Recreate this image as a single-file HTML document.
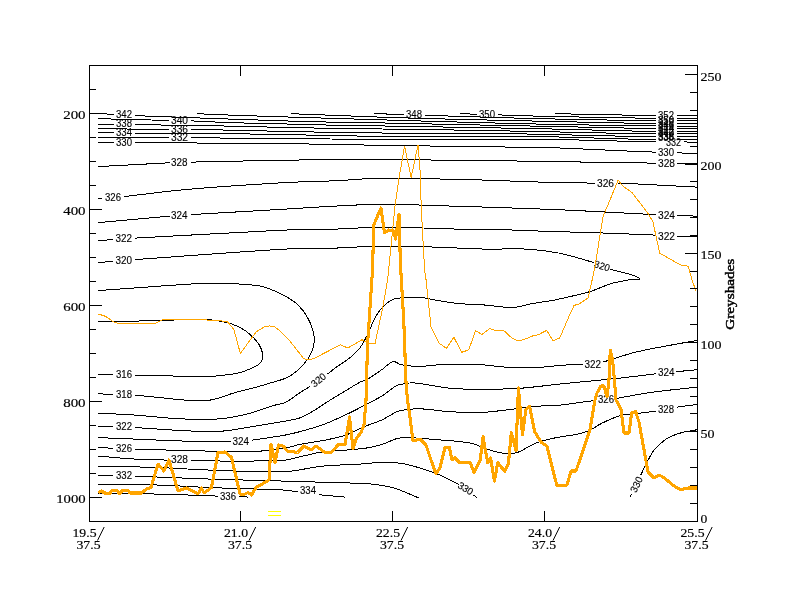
<!DOCTYPE html><html><head><meta charset="utf-8"><title>Cross section</title><style>
html,body{margin:0;padding:0;background:#fff;width:800px;height:600px;overflow:hidden}
svg{display:block}
.ax{font-family:"Liberation Serif",serif;font-size:13px;fill:#000;stroke:#000;stroke-width:0.18px}
.cl{font-family:"Liberation Sans",sans-serif;font-weight:normal;font-size:10px;fill:#000;stroke:#000;stroke-width:0.12px}
</style></head><body>
<svg width="800" height="600" viewBox="0 0 800 600">
<rect width="800" height="600" fill="#fff"/>
<g fill="none" stroke="#000" stroke-width="1" stroke-linejoin="round" shape-rendering="crispEdges" transform="translate(0.1,0.1)">
<path d="M98,113.4 L113.5,114.28"/>
<path d="M134.5,115.47C134.67,115.48 134.83,115.49 135,115.5C145.67,115.92 156.33,116.35 167,116.75C177.00,117.12 187.00,117.44 197,117.8C208.00,118.19 219.00,118.63 230,119C250.33,119.69 270.66,120.39 291,121C304.00,121.39 317.00,121.73 330,122C344.67,122.30 359.33,122.46 374,122.7C379.33,122.79 384.67,122.89 390,123C413.33,123.49 436.67,124.02 460,124.5C486.67,125.05 513.33,125.57 540,126.1C545.00,126.20 550.00,126.29 555,126.4C583.33,127.01 611.67,127.70 640,128.25C645.17,128.35 650.33,128.32 655.5,128.35"/>
<path d="M676.5,128.47 L697,128.6"/>
<path d="M98,118.6C110.33,118.90 122.67,119.20 135,119.5C145.67,119.76 156.33,120.04 167,120.3C167.50,120.31 168.00,120.32 168.5,120.33"/>
<path d="M190.5,120.85C192.67,120.90 194.83,120.90 197,121C208.00,121.49 218.99,122.25 230,122.6C250.33,123.25 270.67,123.51 291,124C304.00,124.31 317.00,124.73 330,125C344.67,125.30 359.33,125.46 374,125.7C379.33,125.79 384.67,125.91 390,126C413.33,126.41 436.67,126.80 460,127.2C486.67,127.66 513.33,128.09 540,128.6C545.00,128.69 550.00,128.87 555,129C583.33,129.71 611.66,130.49 640,131.1C645.17,131.21 650.33,131.15 655.5,131.18"/>
<path d="M676.5,131.29 L697,131.4"/>
<path d="M98,124 L113.5,124.21"/>
<path d="M134.5,124.49C134.67,124.49 134.83,124.50 135,124.5C145.67,124.67 156.33,124.83 167,125C177.00,125.16 187.00,125.34 197,125.5C208.00,125.67 219.00,125.77 230,126C250.33,126.43 270.67,127.05 291,127.5C304.00,127.79 317.00,128.00 330,128.2C344.67,128.43 359.33,128.60 374,128.8C379.33,128.87 384.67,128.93 390,129C413.33,129.33 436.67,129.61 460,130C486.67,130.44 513.33,130.99 540,131.5C545.00,131.59 550.00,131.70 555,131.8C583.33,132.40 611.67,133.07 640,133.6C645.17,133.70 650.33,133.65 655.5,133.68"/>
<path d="M676.5,133.79 L697,133.9"/>
<path d="M98,128.6C110.33,128.73 122.67,128.87 135,129C145.67,129.11 156.33,129.20 167,129.3C167.50,129.30 168.00,129.31 168.5,129.31"/>
<path d="M190.5,129.53C192.67,129.55 194.83,129.57 197,129.6C208.00,129.73 219.00,129.78 230,130C250.34,130.41 270.67,131.05 291,131.5C304.00,131.79 317.00,132.00 330,132.2C344.67,132.43 359.33,132.60 374,132.8C379.33,132.87 384.67,132.96 390,133C413.33,133.19 436.67,133.34 460,133.5C486.67,133.68 513.33,133.72 540,134C545.00,134.05 550.00,134.37 555,134.5C583.33,135.21 611.66,135.91 640,136.5C645.17,136.61 650.33,136.55 655.5,136.58"/>
<path d="M676.5,136.69 L697,136.8"/>
<path d="M98,132.6 L113.5,132.73"/>
<path d="M134.5,132.9C134.67,132.90 134.83,132.90 135,132.9C145.67,132.97 156.33,133.03 167,133.1C177.00,133.16 187.00,133.22 197,133.3C208.00,133.39 219.00,133.45 230,133.6C250.33,133.88 270.67,134.23 291,134.6C304.00,134.83 317.00,135.15 330,135.4C344.67,135.68 359.33,135.96 374,136.2C379.33,136.29 384.67,136.38 390,136.4C413.33,136.48 436.67,136.48 460,136.5C486.67,136.52 513.33,136.42 540,136.5C545.00,136.52 550.00,136.66 555,136.8C583.33,137.58 611.66,138.54 640,139.25C645.17,139.38 650.33,139.30 655.5,139.32"/>
<path d="M676.5,139.41 L697,139.5"/>
<path d="M98,137C110.33,137.07 122.67,137.11 135,137.2C145.67,137.28 156.33,137.40 167,137.5C167.50,137.50 168.00,137.51 168.5,137.51"/>
<path d="M190.5,137.66C192.67,137.67 194.83,137.68 197,137.7C208.00,137.79 219.00,137.91 230,138C250.33,138.17 270.67,138.32 291,138.5C304.00,138.62 317.00,138.77 330,138.9C344.67,139.04 359.33,139.18 374,139.3C379.33,139.34 384.67,139.41 390,139.4C413.33,139.37 436.67,139.26 460,139.2C486.67,139.13 513.33,138.97 540,139C545.00,139.01 550.00,139.18 555,139.3C583.33,140.01 611.66,140.84 640,141.5C645.17,141.62 650.33,141.59 655.5,141.64"/>
<path d="M683.5,141.88 L697,142"/>
<path d="M98,142.6 L113.5,142.64"/>
<path d="M134.5,142.7C134.67,142.70 134.83,142.70 135,142.7C145.67,142.73 156.33,142.77 167,142.8C177.00,142.83 187.00,142.87 197,142.9C208.00,142.93 219.00,142.92 230,143C250.33,143.15 270.67,143.34 291,143.6C304.00,143.77 317.00,144.07 330,144.3C344.67,144.57 359.33,144.83 374,145.1C379.33,145.20 384.67,145.33 390,145.4C413.33,145.73 436.67,145.99 460,146.3C486.67,146.66 513.33,147.01 540,147.4C545.00,147.47 550.00,147.50 555,147.7C583.34,148.86 611.66,150.28 640,151.5C645.16,151.72 650.33,151.85 655.5,152.02"/>
<path d="M676.5,152.72 L697,153.4"/>
<path d="M197,113.6C208.00,114.07 219.00,114.60 230,115C250.33,115.74 270.67,116.36 291,117C318.67,117.86 346.33,118.66 374,119.5C379.33,119.66 384.67,119.84 390,120C413.33,120.68 436.67,121.38 460,122C486.67,122.71 513.33,123.44 540,124C573.33,124.69 606.67,125.22 640,125.75C645.17,125.83 650.33,125.82 655.5,125.85"/>
<path d="M676.5,125.97 L697,126.1"/>
<path d="M291,113.6C318.67,114.67 346.33,115.74 374,116.8C379.33,117.00 384.67,117.24 390,117.4C413.33,118.08 436.67,118.72 460,119.3C486.67,119.96 513.33,120.51 540,121.1C573.33,121.83 606.67,122.60 640,123.25C645.17,123.35 650.33,123.32 655.5,123.35"/>
<path d="M676.5,123.47 L697,123.6"/>
<path d="M374,113.6C379.33,113.73 384.67,113.85 390,114C394.50,114.13 399.00,114.29 403.5,114.44"/>
<path d="M424.5,115.13C436.33,115.52 448.17,115.94 460,116.3C486.67,117.10 513.33,117.98 540,118.6C573.33,119.38 606.67,119.93 640,120.5C645.17,120.59 650.33,120.55 655.5,120.58"/>
<path d="M676.5,120.69 L697,120.8"/>
<path d="M460,113.6 L476.5,114.12"/>
<path d="M497.5,114.77C511.67,115.21 525.83,115.78 540,116.1C573.33,116.86 606.67,117.43 640,118C645.17,118.09 650.33,118.05 655.5,118.08"/>
<path d="M676.5,118.19 L697,118.3"/>
<path d="M555,113.6C583.33,114.15 611.67,114.76 640,115.25C645.17,115.34 650.33,115.32 655.5,115.35"/>
<path d="M676.5,115.47 L697,115.6"/>
<path d="M98,166.5 L169.5,162.68"/>
<path d="M190.5,162.01C190.67,162.01 190.83,162.00 191,162C222.33,161.33 253.66,160.47 285,160C309.16,159.64 333.33,159.50 357.5,159.5C385.83,159.50 414.17,159.78 442.5,160C456.67,160.11 470.83,160.32 485,160.5C509.67,160.82 534.33,161.11 559,161.5C574.67,161.75 590.33,162.16 606,162.4C622.50,162.66 639.00,162.80 655.5,163"/>
<path d="M676.5,163 L697,163"/>
<path d="M98,198C99.00,198.00 100.00,198.01 101,198C101.17,198.00 101.33,197.98 101.5,197.97"/>
<path d="M123.5,196.53C123.67,196.52 123.83,196.52 124,196.5C144.33,194.18 164.61,191.27 185,189.5C218.29,186.61 251.64,184.44 285,182.5C303.31,181.44 321.67,181.36 340,180.5C346.68,180.19 353.32,179.33 360,179C369.99,178.50 379.99,177.95 390,178C415.00,178.12 440.00,178.97 465,179.5C471.67,179.64 478.34,179.77 485,180C507.92,180.77 530.83,181.87 553.75,182.5C567.33,182.87 580.92,182.83 594.5,182.99"/>
<path d="M617.5,183C618.33,183.00 619.17,182.96 620,183C645.67,184.29 671.33,185.67 697,187"/>
<path d="M98,222.5 L169.5,216.05"/>
<path d="M190.5,214.54C190.67,214.53 190.83,214.51 191,214.5C222.33,212.66 253.67,210.85 285,209C301.67,208.02 318.32,206.83 335,206C351.66,205.17 368.32,204.08 385,204C401.67,203.92 418.33,205.00 435,205.5C451.67,206.00 468.34,206.43 485,207C512.50,207.93 540.01,208.77 567.5,210C596.84,211.31 626.17,213.07 655.5,214.6"/>
<path d="M676.5,215.46C676.83,215.47 677.17,215.49 677.5,215.5C684.00,215.67 690.50,215.83 697,216"/>
<path d="M98,240.5 L112.5,239.52"/>
<path d="M134.5,238.03C134.67,238.02 134.83,238.01 135,238C185.00,235.33 234.98,232.25 285,230C301.65,229.25 318.34,229.50 335,229C351.67,228.50 368.32,227.00 385,227C409.18,227.00 433.33,228.52 457.5,229C466.66,229.18 475.84,228.78 485,229C503.34,229.44 521.66,230.39 540,231C562.00,231.73 584.00,232.24 606,233C622.50,233.57 639.00,234.33 655.5,235"/>
<path d="M676.5,235.95C676.83,235.97 677.17,236.00 677.5,236C684.00,236.02 690.50,236.00 697,236"/>
<path d="M98,262.5 L112.5,261.32"/>
<path d="M134.5,259.54C134.67,259.53 134.83,259.51 135,259.5C185.00,256.00 234.96,251.88 285,249C301.64,248.04 318.34,248.53 335,248C350.01,247.53 364.99,246.15 380,246C398.34,245.82 416.67,246.48 435,247C451.67,247.48 468.32,248.63 485,249C498.66,249.30 512.35,248.26 526,249C537.06,249.60 548.13,250.85 559,253C570.70,255.31 582.03,259.23 593.54,262.35"/>
<path d="M610.09,269.01C610.56,269.21 611.01,269.45 611.5,269.6C620.65,272.45 630.96,272.78 639,278C642.26,280.12 631.32,279.25 627.5,280C622.15,281.05 616.71,281.81 611.5,283.4C604.01,285.68 597.00,289.36 589.5,291.6C579.80,294.49 569.85,296.43 560,298.75C557.10,299.43 554.19,300.10 551.25,300.6C545.02,301.65 538.72,302.26 532.5,303.4C527.46,304.33 522.54,305.86 517.5,306.8C515.03,307.26 512.51,307.74 510,307.6C501.83,307.14 493.75,305.65 485.6,305C476.25,304.25 466.84,304.28 457.5,303.4C451.21,302.81 444.99,301.62 438.75,300.6C432.48,299.57 426.33,297.72 420,297.25C413.68,296.78 407.31,297.25 401,297.8C397.95,298.07 394.75,298.33 392,299.7C388.42,301.48 385.26,304.11 382.5,307C379.53,310.11 377.07,313.73 375,317.5C372.04,322.91 370.26,328.89 367.5,334.4C365.25,338.90 363.01,343.47 360,347.5C357.33,351.07 354.04,354.18 350.6,357C345.68,361.03 340.13,364.24 335,368C332.51,369.82 330.17,371.84 327.75,373.75C327.62,373.85 327.48,373.95 327.34,374.05"/>
<path d="M309.86,386.34C306.57,388.39 303.25,390.39 300,392.5C294.96,395.78 290.37,399.81 285,402.5C281.93,404.04 278.29,404.01 275,405C265.79,407.76 256.83,411.42 247.5,413.75C238.46,416.01 229.29,418.06 220,418.75C206.70,419.73 193.32,419.34 180,418.75C164.96,418.09 150.02,416.05 135,415C122.68,414.14 110.33,413.67 98,413"/>
<path d="M98,290.5C118.67,289.00 139.33,287.38 160,286C176.66,284.88 193.31,283.42 210,283C220.00,282.75 230.01,283.40 240,284C246.69,284.40 253.41,284.78 260,286C264.30,286.79 268.44,288.38 272.5,290C276.79,291.72 280.99,293.71 285,296C289.17,298.39 293.52,300.68 297,304C301.12,307.94 304.83,312.47 307.5,317.5C310.57,323.27 313.13,329.52 314,336C314.67,341.00 313.73,346.26 312,351C310.24,355.82 307.20,360.20 303.75,364C299.36,368.83 294.44,373.40 288.75,376.6C283.00,379.84 276.28,380.95 270,383C266.69,384.08 263.36,385.09 260,386C251.69,388.26 243.29,390.18 235,392.5C226.62,394.85 218.60,398.71 210,400C201.76,401.24 193.32,400.42 185,400C176.64,399.58 168.33,398.33 160,397.5C151.67,396.67 143.33,395.82 135,395C134.83,394.98 134.67,394.99 134.5,394.98"/>
<path d="M112.5,394.24 L98,393.75"/>
<path d="M98,321.3C110.33,321.20 122.67,321.20 135,321C143.34,320.87 151.67,320.53 160,320.3C168.33,320.07 176.67,319.83 185,319.6C190.00,319.46 195.00,319.09 200,319.2C205.01,319.31 210.02,319.64 215,320.25C219.04,320.74 223.07,321.45 227,322.5C230.59,323.46 234.13,324.69 237.5,326.25C240.65,327.71 243.69,329.46 246.5,331.5C249.22,333.48 251.69,335.80 254,338.25C255.96,340.32 257.82,342.53 259.25,345C260.60,347.33 261.80,349.85 262.25,352.5C262.67,354.97 262.55,357.61 261.8,360C261.25,361.78 260.00,363.40 258.5,364.5C255.79,366.48 252.59,367.69 249.5,369C246.08,370.45 242.60,371.84 239,372.75C235.07,373.75 231.02,374.19 227,374.7C222.02,375.34 217.01,375.87 212,376.2C208.01,376.47 204.00,376.49 200,376.5C195.00,376.52 190.00,376.42 185,376.3C176.67,376.09 168.33,375.72 160,375.5C151.67,375.28 143.33,375.17 135,375C134.83,375.00 134.67,374.99 134.5,374.99"/>
<path d="M112.5,374.7 L98,374.5"/>
<path d="M98,426 L112.5,426.59"/>
<path d="M134.5,427.48C134.67,427.49 134.83,427.49 135,427.5C154.17,428.66 173.31,430.23 192.5,431C202.49,431.40 212.53,431.80 222.5,431C233.43,430.13 244.18,427.73 255,426C265.01,424.40 275.03,422.84 285,421C290.03,420.07 295.21,419.50 300,417.7C305.30,415.71 310.13,412.63 315,409.75C320.14,406.72 324.94,403.16 330,400C334.94,396.91 340.00,394.00 345,391C350.00,388.00 354.86,384.74 360,382C362.38,380.73 365.17,380.35 367.5,379C372.70,375.99 377.55,372.40 382.5,369C386.05,366.57 388.81,362.47 393,361.5C395.80,360.85 398.17,364.20 401,364.7C407.26,365.80 413.65,366.30 420,366.25C427.53,366.20 434.98,364.64 442.5,364.4C454.33,364.02 466.18,363.89 478,364.4C488.03,364.83 497.97,366.75 508,367.2C518.66,367.68 529.34,367.59 540,367.2C546.69,366.96 553.32,365.80 560,365.3C567.49,364.74 575.00,364.43 582.5,364"/>
<path d="M602.5,362.05C602.67,362.03 602.84,362.05 603,362C613.68,358.76 624.17,354.89 635,352.2C647.37,349.12 659.98,347.08 672.5,344.7C680.65,343.15 688.83,341.83 697,340.4"/>
<path d="M98,437.5C110.33,438.00 122.67,438.50 135,439C151.67,439.67 168.32,440.65 185,441C200.16,441.32 215.33,441.00 230.5,441"/>
<path d="M251.5,440.05C251.83,440.03 252.17,440.05 252.5,440C263.34,438.37 274.21,436.93 285,435C290.05,434.10 295.05,432.85 300,431.5C307.55,429.44 315.15,427.45 322.5,424.75C330.17,421.94 337.58,418.43 345,415C351.09,412.18 357.05,409.09 363,406C369.55,402.59 376.21,399.36 382.5,395.5C387.23,392.60 391.10,388.36 396,385.75C398.73,384.29 401.96,384.05 405,383.5C407.47,383.05 409.99,382.75 412.5,382.75C415.01,382.75 417.51,383.14 420,383.5C430.65,385.03 441.18,387.49 451.9,388.4C462.90,389.33 473.96,389.00 485,389C495.84,389.00 506.69,389.15 517.5,388.4C532.97,387.32 548.33,385.06 563.75,383.5C581.24,381.73 598.77,380.26 616.25,378.4C629.38,377.01 642.48,375.30 655.6,373.75"/>
<path d="M676.2,371.6C676.53,371.57 676.87,371.53 677.2,371.5C683.80,370.87 690.40,370.23 697,369.6"/>
<path d="M98,447.5 L112.5,448.09"/>
<path d="M134.5,448.98C134.67,448.99 134.83,449.00 135,449C160.00,449.67 184.99,450.60 210,451C226.66,451.27 243.35,451.67 260,451C268.39,450.66 276.72,449.40 285,448C290.08,447.14 294.95,445.26 300,444.25C307.46,442.76 315.04,441.99 322.5,440.5C330.05,438.99 337.69,437.69 345,435.25C351.26,433.16 356.91,429.56 363,427C369.42,424.30 376.16,422.38 382.5,419.5C387.19,417.37 391.28,414.05 396,412C398.84,410.77 401.94,410.17 405,409.75C409.97,409.07 414.99,408.49 420,408.7C430.04,409.11 439.97,410.98 450,411.6C459.98,412.22 470.00,412.72 480,412.4C489.20,412.10 498.35,410.76 507.5,409.75C511.68,409.29 515.82,408.46 520,408C528.32,407.08 536.65,406.23 545,405.6C549.99,405.23 555.02,405.51 560,405C570.04,403.97 579.99,402.29 590,401C591.83,400.76 593.67,400.61 595.5,400.41"/>
<path d="M616.5,398.16C617.00,398.11 617.50,398.09 618,398C628.67,396.17 639.27,393.89 650,392.4C665.62,390.23 681.33,388.80 697,387"/>
<path d="M98,456C110.33,457.00 122.65,458.29 135,459C145.82,459.62 156.67,459.67 167.5,460C167.83,460.01 168.17,460.01 168.5,460.02"/>
<path d="M190.5,460.49C190.67,460.49 190.83,460.50 191,460.5C205.67,460.67 220.33,461.08 235,461C251.67,460.91 268.37,461.10 285,460C290.11,459.66 295.00,457.80 300,456.7C307.50,455.05 314.89,452.79 322.5,451.75C332.44,450.39 342.52,450.44 352.5,449.5C358.52,448.94 364.56,448.38 370.5,447.25C375.09,446.38 379.57,444.98 384,443.5C388.58,441.97 392.82,439.42 397.5,438.25C400.90,437.40 404.49,437.50 408,437.5C412.01,437.50 416.00,437.98 420,438.25C423.33,438.48 426.67,438.68 430,439C443.34,440.27 456.82,440.58 470,443C476.95,444.27 483.22,448.00 490,450C495.24,451.54 500.56,453.09 506,453.6C509.64,453.94 513.46,453.72 516.9,452.5C523.48,450.17 529.10,445.63 535.6,443.1C541.66,440.74 548.05,439.28 554.4,437.9C562.45,436.16 570.71,435.53 578.75,433.75C582.61,432.89 586.41,431.65 590,430C593.95,428.18 597.33,425.28 601.25,423.4C607.35,420.47 613.46,417.35 620,415.6C626.49,413.86 633.33,413.83 640,413C645.16,412.36 650.33,411.79 655.5,411.18"/>
<path d="M676.5,407.1C676.67,407.07 676.83,407.02 677,407C683.67,406.12 690.33,405.27 697,404.4"/>
<path d="M98,466C118.67,466.50 139.34,466.76 160,467.5C176.68,468.10 193.32,469.47 210,470C234.99,470.80 260.01,472.39 285,471.5C297.63,471.05 309.93,467.26 322.5,466C334.96,464.75 347.51,464.80 360,464C368.34,463.47 376.64,462.00 385,462C391.70,462.00 398.40,462.87 405,464C410.10,464.87 415.06,466.45 420,468C426.74,470.12 433.49,472.26 440,475C446.18,477.60 452.02,480.96 458,484C458.30,484.15 458.55,484.39 458.83,484.59"/>
<path d="M473.28,494.94 L477,497.6"/>
<path d="M98,475.5 L112.5,475.7"/>
<path d="M134.5,475.99C134.67,475.99 134.83,475.99 135,476C160.00,477.00 184.99,478.17 210,479C235.00,479.83 260.00,480.30 285,481C301.67,481.47 318.34,481.93 335,482.5C347.50,482.93 360.04,482.92 372.5,484C379.24,484.59 385.89,486.06 392.5,487.5C395.07,488.06 397.55,489.03 400,490C406.39,492.53 412.67,495.33 419,498"/>
<path d="M98,484C118.67,484.33 139.34,484.35 160,485C176.68,485.52 193.33,486.83 210,487.5C234.99,488.50 260.02,488.79 285,490C289.20,490.20 293.33,491.15 297.5,491.73"/>
<path d="M318.5,494.59 L345,497"/>
<path d="M98,493C118.67,493.33 139.34,493.48 160,494C179.17,494.48 198.33,495.33 217.5,496"/>
<path d="M238.5,496.1 L247.5,497"/>
<path d="M697,429.6C691.33,430.73 685.53,431.32 680,433C675.14,434.47 670.25,436.22 666,439C661.46,441.97 657.39,445.76 654,450C650.64,454.20 648.53,459.26 646,464C644.11,467.55 642.49,471.23 640.74,474.85"/>
<path d="M631.32,494.29 L630,497"/>
</g>
<g class="cl">
<text x="116" y="118.00" textLength="16" lengthAdjust="spacingAndGlyphs">342</text>
<text x="116" y="127.40" textLength="16" lengthAdjust="spacingAndGlyphs">338</text>
<text x="116" y="136.00" textLength="16" lengthAdjust="spacingAndGlyphs">334</text>
<text x="116" y="146.00" textLength="16" lengthAdjust="spacingAndGlyphs">330</text>
<text x="171" y="123.90" textLength="17" lengthAdjust="spacingAndGlyphs">340</text>
<text x="171" y="132.65" textLength="17" lengthAdjust="spacingAndGlyphs">336</text>
<text x="171" y="141.00" textLength="17" lengthAdjust="spacingAndGlyphs">332</text>
<text x="406" y="118.00" textLength="16" lengthAdjust="spacingAndGlyphs">348</text>
<text x="479" y="117.60" textLength="16" lengthAdjust="spacingAndGlyphs">350</text>
<text x="658" y="118.70" textLength="16" lengthAdjust="spacingAndGlyphs">352</text>
<text x="658" y="123.90" textLength="16" lengthAdjust="spacingAndGlyphs">350</text>
<text x="658" y="126.60" textLength="16" lengthAdjust="spacingAndGlyphs">348</text>
<text x="658" y="129.30" textLength="16" lengthAdjust="spacingAndGlyphs">346</text>
<text x="658" y="132.00" textLength="16" lengthAdjust="spacingAndGlyphs">344</text>
<text x="658" y="134.70" textLength="16" lengthAdjust="spacingAndGlyphs">342</text>
<text x="658" y="137.40" textLength="16" lengthAdjust="spacingAndGlyphs">340</text>
<text x="658" y="139.90" textLength="16" lengthAdjust="spacingAndGlyphs">338</text>
<text x="658" y="141.40" textLength="16" lengthAdjust="spacingAndGlyphs">336</text>
<text x="666" y="146.00" textLength="15" lengthAdjust="spacingAndGlyphs">332</text>
<text x="658" y="156.40" textLength="16" lengthAdjust="spacingAndGlyphs">330</text>
<text x="171" y="166.00" textLength="16.5" lengthAdjust="spacingAndGlyphs">328</text>
<text x="658" y="166.60" textLength="17" lengthAdjust="spacingAndGlyphs">328</text>
<text x="105" y="200.60" textLength="16" lengthAdjust="spacingAndGlyphs">326</text>
<text x="597" y="186.60" textLength="17" lengthAdjust="spacingAndGlyphs">326</text>
<text x="171" y="218.60" textLength="16.5" lengthAdjust="spacingAndGlyphs">324</text>
<text x="658" y="218.60" textLength="17" lengthAdjust="spacingAndGlyphs">324</text>
<text x="115.5" y="242.00" textLength="16.5" lengthAdjust="spacingAndGlyphs">322</text>
<text x="658" y="239.60" textLength="17" lengthAdjust="spacingAndGlyphs">322</text>
<text x="115.5" y="263.60" textLength="16.5" lengthAdjust="spacingAndGlyphs">320</text>
<text x="116" y="378.40" textLength="16" lengthAdjust="spacingAndGlyphs">316</text>
<text x="116" y="397.60" textLength="16" lengthAdjust="spacingAndGlyphs">318</text>
<text x="116" y="429.60" textLength="16" lengthAdjust="spacingAndGlyphs">322</text>
<text x="584.5" y="367.70" textLength="16.5" lengthAdjust="spacingAndGlyphs">322</text>
<text x="232.5" y="444.60" textLength="16.5" lengthAdjust="spacingAndGlyphs">324</text>
<text x="658" y="375.70" textLength="16.5" lengthAdjust="spacingAndGlyphs">324</text>
<text x="116" y="451.60" textLength="16" lengthAdjust="spacingAndGlyphs">326</text>
<text x="598" y="402.60" textLength="16" lengthAdjust="spacingAndGlyphs">326</text>
<text x="171" y="463.00" textLength="17" lengthAdjust="spacingAndGlyphs">328</text>
<text x="658" y="413.10" textLength="16" lengthAdjust="spacingAndGlyphs">328</text>
<text x="116" y="479.00" textLength="16" lengthAdjust="spacingAndGlyphs">332</text>
<text x="300" y="494.00" textLength="16" lengthAdjust="spacingAndGlyphs">334</text>
<text x="220" y="499.60" textLength="16" lengthAdjust="spacingAndGlyphs">336</text>
<text transform="translate(602,266) rotate(18)" x="-8" y="3.4" textLength="16" lengthAdjust="spacingAndGlyphs">320</text>
<text transform="translate(318.5,380) rotate(-40)" x="-8" y="3.4" textLength="16" lengthAdjust="spacingAndGlyphs">320</text>
<text transform="translate(465.5,488.5) rotate(32)" x="-8" y="3.4" textLength="16" lengthAdjust="spacingAndGlyphs">330</text>
<text transform="translate(636.5,484.5) rotate(-64)" x="-8" y="3.4" textLength="16" lengthAdjust="spacingAndGlyphs">330</text>
</g>
<polyline points="98,314.3 103,315.2 107.5,317.5 113,321.5 118,323.4 155,323.4 159,321.5 162.5,319.8 185,319.3 210,320 227,321.3 233.75,329.25 240.2,353.25 252.5,336.75 256.25,331.5 264.5,326.7 269.75,325.8 275,327 280,330.75 290.6,341.9 303.75,358.75 310.3,359.7 315,357.8 340.3,344.7 347.8,347.9 361.9,339.6 367.5,342.8 375,343.4 382.5,308 387.5,280 395,205 399,177.5 404.5,146 411,177.5 418,144.5 420.5,177.5 421,205 424.5,270 426,280 431,327.5 432.2,329.7 438.75,342.8 446.25,348.4 453.75,337.2 461.6,352.2 468.75,349.75 475.3,330.6 481.9,334.4 489.75,328.4 495,330.25 503.4,330.25 511.9,338 517.9,341 525,339 532.5,335.9 538,334.75 546.6,330.25 553,341 559.7,337.75 570,313.75 574,305.3 578.75,304 588,297.8 592,280 595,265.5 603,216 609,202 618,180 622.5,185.75 632,192.6 647,212 652.75,221.5 659.6,253 666.5,257 681.6,265.5 688,266 692,280 696,291.25" fill="none" stroke="#ffa500" stroke-width="1" stroke-linejoin="miter" shape-rendering="crispEdges" transform="translate(0.1,0.1)"/>
<polyline points="98.25,493 101.5,490.75 104,493 110,493.25 111.5,490.75 117.5,490.75 119.5,493.75 122,490.75 128.5,490.75 130,493 141.5,493 146.5,489 151,487.5 158,464 164,471 169,460 178,491 186.5,488 198,494 201.5,488 204,493 211.5,487.5 218,452.5 225,452 231.5,457.5 240,494 244,494.5 248,492.5 251.5,495 256,487.5 269,480 271,444 275,462.5 278.5,445 283,446 287.5,451 297.5,452.5 304,446 311,450 316,446 325,452.5 331,452.5 339,444 345,445 349.5,417 353,449 356,439 361,432.5 364,425 366,400 367.5,345 372.5,270 373.75,225 377.5,216 381,208 384.5,232.5 388.75,230 393.75,231 395.5,239 399,214.5 400,250 400.75,270 403.75,320 406,382.5 407.5,400 410,417.5 413,441 420,439 426,445 431,460 436,474 440,467.5 445,447.5 449.5,447.5 452,460 455,457.5 459,462.3 470,462.3 474,472.5 480,461 483.1,436.6 485,448.75 487.8,462.8 490.6,458.1 494.4,481 497.75,462.8 504.7,471.25 508.4,463.75 511.25,432.8 514,442.2 516,450.6 518.4,387.8 520.25,409.4 522.5,434.7 525.9,409.4 529.6,406.6 534.7,431.9 541.25,442.2 546.9,446 557,486 567,485 571,471 576,471 590,430 595,400 597,393 601,386 604,386 607,397 609,380 610.25,350.3 612.5,358.75 614.4,379.4 616,400 621,409 624,433 629,433 631.6,413 635.6,411.6 639,422 648,472 654,478 659,475 663,477 668,481 674,486 681,489.6 688,488 697,488" fill="none" stroke="#ffa500" stroke-width="3.1" stroke-linejoin="round" shape-rendering="crispEdges"/>
<path d="M268 511.5H281M268 515.5H281" stroke="#ffff00" stroke-width="1.2"/>
<g stroke="#000" stroke-width="1" fill="none" shape-rendering="crispEdges">
<rect x="89.5" y="65.5" width="608" height="456"/>
<path d="M89.5 89.5h6.5M89.5 113.5h12.5M89.5 137.5h6.5M89.5 161.5h6.5M89.5 185.5h6.5M89.5 209.5h12.5M89.5 233.5h6.5M89.5 257.5h6.5M89.5 281.5h6.5M89.5 305.5h12.5M89.5 329.5h6.5M89.5 353.5h6.5M89.5 377.5h6.5M89.5 401.5h12.5M89.5 425.5h6.5M89.5 449.5h6.5M89.5 473.5h6.5M89.5 497.5h12.5M89.5 521.5h6.5M240.5 66v10M240.5 521v-10M392.5 66v10M392.5 521v-10M544.5 66v10M544.5 521v-10M697.5 503.5h-7.5M697.5 485.5h-7.5M697.5 467.5h-7.5M697.5 449.5h-7.5M697.5 431.5h-13M697.5 413.5h-7.5M697.5 396.5h-7.5M697.5 378.5h-7.5M697.5 360.5h-7.5M697.5 342.5h-13M697.5 324.5h-7.5M697.5 306.5h-7.5M697.5 288.5h-7.5M697.5 271.5h-7.5M697.5 253.5h-13M697.5 235.5h-7.5M697.5 217.5h-7.5M697.5 199.5h-7.5M697.5 181.5h-7.5M697.5 164.5h-13M697.5 146.5h-7.5M697.5 128.5h-7.5M697.5 110.5h-7.5M697.5 92.5h-7.5M697.5 74.5h-13"/>
</g>
<g class="ax">
<text x="63.2" y="119.10" textLength="22.4" lengthAdjust="spacingAndGlyphs">200</text>
<text x="63.2" y="215.10" textLength="22.4" lengthAdjust="spacingAndGlyphs">400</text>
<text x="63.2" y="311.10" textLength="22.4" lengthAdjust="spacingAndGlyphs">600</text>
<text x="63.2" y="407.10" textLength="22.4" lengthAdjust="spacingAndGlyphs">800</text>
<text x="56.2" y="503.10" textLength="29.4" lengthAdjust="spacingAndGlyphs">1000</text>
<text x="700.4" y="80.75" textLength="21" lengthAdjust="spacingAndGlyphs">250</text>
<text x="700.4" y="170.10" textLength="21" lengthAdjust="spacingAndGlyphs">200</text>
<text x="700.4" y="259.45" textLength="21" lengthAdjust="spacingAndGlyphs">150</text>
<text x="700.4" y="348.80" textLength="21" lengthAdjust="spacingAndGlyphs">100</text>
<text x="700.4" y="438.15" textLength="14" lengthAdjust="spacingAndGlyphs">50</text>
<text x="700.4" y="522.60" textLength="6.8" lengthAdjust="spacingAndGlyphs">0</text>
<text x="72.50" y="537" textLength="24" lengthAdjust="spacingAndGlyphs">19.5</text>
<text x="76.50" y="548.8" textLength="24" lengthAdjust="spacingAndGlyphs">37.5</text>
<path d="M104.20 527L97.50 540.5" stroke="#000" stroke-width="1"/>
<text x="224.00" y="537" textLength="24" lengthAdjust="spacingAndGlyphs">21.0</text>
<text x="228.00" y="548.8" textLength="24" lengthAdjust="spacingAndGlyphs">37.5</text>
<path d="M255.70 527L249.00 540.5" stroke="#000" stroke-width="1"/>
<text x="376.00" y="537" textLength="24" lengthAdjust="spacingAndGlyphs">22.5</text>
<text x="380.00" y="548.8" textLength="24" lengthAdjust="spacingAndGlyphs">37.5</text>
<path d="M407.70 527L401.00 540.5" stroke="#000" stroke-width="1"/>
<text x="528.00" y="537" textLength="24" lengthAdjust="spacingAndGlyphs">24.0</text>
<text x="532.00" y="548.8" textLength="24" lengthAdjust="spacingAndGlyphs">37.5</text>
<path d="M559.70 527L553.00 540.5" stroke="#000" stroke-width="1"/>
<text x="680.50" y="537" textLength="24" lengthAdjust="spacingAndGlyphs">25.5</text>
<text x="684.50" y="548.8" textLength="24" lengthAdjust="spacingAndGlyphs">37.5</text>
<path d="M712.20 527L705.50 540.5" stroke="#000" stroke-width="1"/>
<text transform="translate(733.9,294.2) rotate(-90)" x="-35.5" y="0" textLength="71" lengthAdjust="spacingAndGlyphs" style="font-weight:normal;font-size:13px;stroke-width:0.45px">Greyshades</text>
</g>
</svg></body></html>
